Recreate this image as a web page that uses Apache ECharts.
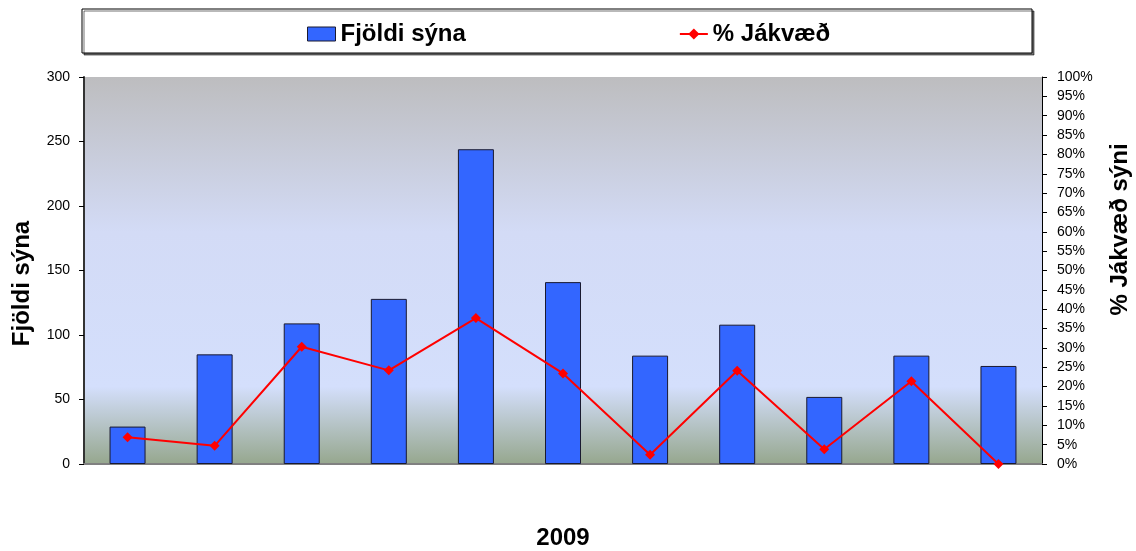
<!DOCTYPE html>
<html lang="en">
<head>
    <meta charset="UTF-8">
    <title>Fjöldi sýna 2009</title>
    <script src="https://cdn.jsdelivr.net/npm/echarts/dist/echarts.min.js"></script>
    <style>
        body { margin: 0; background: #fff; }
        #main { width: 1136px; height: 551px; }
    </style>
</head>
<body>
    <div id="main"></div>

    <script>
        // 11 samples months, no labels shown on the x axis
        var categories = ['1', '2', '3', '4', '5', '6', '7', '8', '9', '10', '11'];
        var sampleCounts = [29, 85, 109, 128, 244, 141, 84, 108, 52, 84, 76];
        var positivePct = [6.9, 4.7, 30.3, 24.2, 37.7, 23.4, 2.4, 24.1, 3.8, 21.4, 0];

        var chart = echarts.init(document.getElementById('main'));
        var font = 'Liberation Sans, Arial, sans-serif';

        var option = {
            textStyle: { fontFamily: font },
            graphic: [{
                type: 'rect',
                z: 0,
                shape: { x: 82, y: 9, width: 950, height: 44 },
                style: {
                    fill: '#fff',
                    stroke: '#000',
                    lineWidth: 1,
                    shadowColor: 'rgba(0,0,0,0.55)',
                    shadowOffsetX: 2,
                    shadowOffsetY: 2,
                    shadowBlur: 0
                }
            }],
            legend: {
                z: 10,
                left: 302,
                top: 17,
                itemGap: 213,
                itemWidth: 28,
                itemHeight: 14,
                itemStyle: { borderColor: '#1a1a30', borderWidth: 1 },
                textStyle: { fontSize: 24, fontWeight: 'bold', color: '#000', fontFamily: font },
                data: [
                    { name: 'Fjöldi sýna', icon: 'rect' },
                    { name: '% Jákvæð', itemStyle: { borderWidth: 0 } }
                ]
            },
            grid: {
                left: 84, right: 94, top: 77, bottom: 87,
                outerBoundsMode: 'none',
                containLabel: false,
                show: true,
                borderWidth: 0,
                backgroundColor: new echarts.graphic.LinearGradient(0, 0, 0, 1, [
                    { offset: 0, color: '#bdbdbf' },
                    { offset: 0.4, color: '#d3dbf6' },
                    { offset: 0.8, color: '#d4dffc' },
                    { offset: 1, color: '#96a78e' }
                ])
            },
            xAxis: {
                type: 'category',
                data: categories,
                name: '2009',
                nameLocation: 'middle',
                nameGap: 62,
                nameTextStyle: { fontSize: 24, fontWeight: 'bold', color: '#000' },
                axisLine: { lineStyle: { color: '#808080', width: 2 } },
                axisTick: { show: false },
                axisLabel: { show: false }
            },
            yAxis: [{
                type: 'value',
                min: 0,
                max: 300,
                interval: 50,
                name: 'Fjöldi sýna',
                nameLocation: 'middle',
                nameGap: 50,
                nameRotate: 90,
                nameTextStyle: { fontSize: 24, fontWeight: 'bold', color: '#000', padding: [0, 26, 0, 0] },
                axisLine: { show: true, lineStyle: { color: '#333', width: 2 } },
                axisTick: { show: true, length: 5, lineStyle: { color: '#000' } },
                axisLabel: { fontSize: 14, color: '#000', margin: 14 },
                splitLine: { show: false }
            }, {
                type: 'value',
                min: 0,
                max: 100,
                interval: 5,
                position: 'right',
                name: '% Jákvæð sýni',
                nameLocation: 'middle',
                nameGap: 66,
                nameRotate: 90,
                nameTextStyle: { fontSize: 24, fontWeight: 'bold', color: '#000', padding: [0, 0, 0, 82] },
                axisLine: { show: true, lineStyle: { color: '#000', width: 1 } },
                axisTick: { show: true, length: 5, lineStyle: { color: '#000' } },
                axisLabel: { fontSize: 14, color: '#000', margin: 15, formatter: '{value}%' },
                splitLine: { show: false }
            }],
            series: [{
                name: 'Fjöldi sýna',
                type: 'bar',
                data: sampleCounts,
                barWidth: 36,
                itemStyle: { color: '#3366ff', borderColor: '#1a1a30', borderWidth: 1 }
            }, {
                name: '% Jákvæð',
                type: 'line',
                yAxisIndex: 1,
                data: positivePct,
                symbol: 'diamond',
                symbolSize: 10,
                lineStyle: { color: '#ff0000', width: 2 },
                itemStyle: { color: '#ff0000' }
            }]
        };

        chart.setOption(option);
    </script>
</body>
</html>
